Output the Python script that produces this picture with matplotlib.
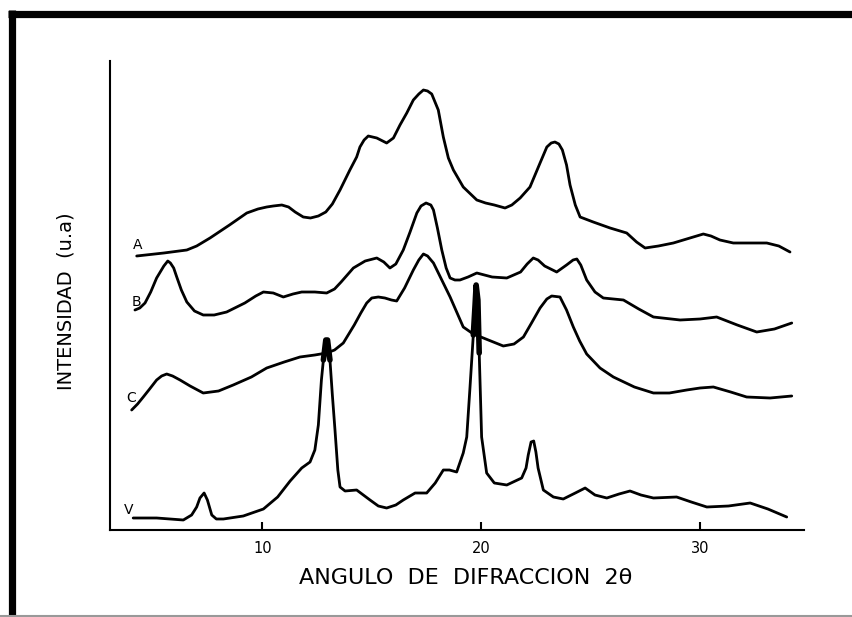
import numpy as np
import matplotlib
matplotlib.use('Agg')
import matplotlib.pyplot as plt
from matplotlib.lines import Line2D

# 2-theta positions and intensities (arbitrary units, stacked curves)
a_angle = [4.26, 5.5, 6.55, 7.0, 7.61, 8.5, 9.29, 9.8, 10.2, 10.5, 10.89, 11.2, 11.5, 11.87,
           12.2, 12.56, 12.9, 13.2, 13.55, 14.0, 14.31, 14.46, 14.65, 14.84, 15.23, 15.68,
           15.99, 16.29, 16.6, 16.9, 17.15, 17.36, 17.55, 17.74, 18.04, 18.27, 18.5, 18.73,
           19.18, 19.8, 20.2, 20.6, 21.09, 21.4, 21.78, 22.23, 22.69, 23.0, 23.2, 23.37,
           23.55, 23.71, 23.9, 24.06, 24.3, 24.52, 25.12, 25.89, 26.65, 27.1, 27.49, 28.1,
           28.78, 29.54, 30.15, 30.5, 30.91, 31.52, 32.3, 33.05, 33.6, 34.11]
a_int = [274, 277, 280, 284, 292, 305, 317, 321, 323, 324, 325, 323, 318, 313,
         312, 314, 318, 326, 340, 360, 373, 383, 390, 394, 392, 387,
         392, 405, 417, 430, 436, 440, 439, 436, 420, 393, 372, 360,
         343, 330, 327, 325, 322, 325, 332, 343, 367, 383, 387, 388,
         386, 380, 365, 345, 325, 313, 308, 302, 297, 288, 282, 284,
         287, 292, 296, 294, 290, 287, 287, 287, 284, 278]

b_angle = [4.18, 4.4, 4.64, 4.9, 5.17, 5.5, 5.68, 5.8, 5.95, 6.09, 6.3, 6.55, 6.9, 7.3, 7.8,
           8.37, 9.2, 9.7, 10.05, 10.5, 10.96, 11.4, 11.8, 12.4, 12.94, 13.3, 13.6, 14.16,
           14.7, 15.23, 15.55, 15.83, 16.1, 16.44, 16.75, 17.06, 17.25, 17.48, 17.7, 17.82,
           18.0, 18.2, 18.4, 18.58, 18.8, 19.03, 19.4, 19.8, 20.5, 21.17, 21.8, 22.1, 22.38,
           22.6, 22.9, 23.45, 23.9, 24.2, 24.37, 24.55, 24.82, 25.2, 25.58, 26.5, 27.2,
           27.87, 29.09, 30.0, 30.76, 31.7, 32.59, 33.4, 34.19]
b_int = [220, 222, 227, 238, 252, 264, 269, 267, 262, 253, 240, 228, 219, 215, 215,
         218, 227, 234, 238, 237, 233, 236, 238, 238, 237, 241, 248, 262,
         269, 272, 268, 262, 266, 280, 298, 317, 324, 327, 325, 320,
         302, 280, 262, 252, 250, 250, 253, 257, 253, 252, 258, 266, 272,
         270, 264, 258, 265, 270, 271, 265, 250, 238, 232, 230, 221,
         213, 210, 211, 213, 205, 198, 201, 207]

c_angle = [4.03, 4.3, 4.56, 4.85, 5.17, 5.4, 5.63, 5.9, 6.24, 6.7, 7.3, 8.0, 8.67, 9.5, 10.2,
           11.0, 11.72, 12.4, 12.94, 13.3, 13.7, 14.2, 14.5, 14.77, 15.0, 15.3, 15.6, 15.9,
           16.14, 16.5, 16.9, 17.15, 17.36, 17.55, 17.82, 18.2, 18.58, 18.9, 19.18, 19.64,
           20.1, 21.01, 21.5, 21.93, 22.3, 22.69, 23.0, 23.22, 23.6, 23.9, 24.21, 24.5,
           24.82, 25.43, 26.04, 27.0, 27.87, 28.6, 29.39, 30.0, 30.61, 31.4, 32.13, 33.2,
           34.19]
c_int = [120, 126, 133, 141, 150, 154, 156, 154, 150, 144, 137, 139, 145, 153, 162,
         168, 173, 175, 177, 180, 187, 205, 217, 227, 232, 233, 232, 230,
         229, 242, 260, 270, 276, 274, 267, 250, 233, 217, 203, 196,
         192, 184, 186, 193, 207, 222, 231, 234, 233, 220, 203, 189,
         176, 162, 153, 143, 137, 137, 140, 142, 143, 138, 133, 132,
         134]

v_angle = [4.1, 5.17, 6.39, 6.77, 7.0, 7.15, 7.34, 7.49, 7.69, 7.9, 8.22, 9.13, 10.05, 10.7,
           11.27, 11.8, 12.18, 12.4, 12.56, 12.7, 12.79, 12.9, 12.98, 13.09, 13.2, 13.32,
           13.45, 13.55, 13.78, 14.31, 14.92, 15.3, 15.68, 16.1, 16.44, 16.98, 17.51, 17.9,
           18.27, 18.55, 18.88, 19.18, 19.34, 19.49, 19.64, 19.72, 19.77, 19.85, 19.91, 20.02,
           20.25, 20.6, 21.17, 21.85, 22.05, 22.15, 22.28, 22.4, 22.5, 22.6, 22.84, 23.3,
           23.75, 24.3, 24.75, 25.2, 25.74, 26.3, 26.8, 27.3, 27.87, 28.93, 29.6, 30.31,
           31.3, 32.29, 33.1, 33.96]
v_int = [12, 12, 10, 15, 23, 32, 37, 30, 15, 11, 11, 14, 21, 33,
         49, 62, 68, 80, 105, 150, 170, 190, 190, 170, 135, 100,
         60, 43, 39, 40, 30, 24, 22, 25, 30, 37, 37, 47,
         60, 60, 58, 77, 93, 143, 195, 225, 245, 230, 177, 93,
         57, 47, 45, 52, 62, 75, 88, 89, 78, 62, 40, 33,
         31, 37, 42, 35, 32, 36, 39, 35, 32, 33, 28, 23,
         24, 27, 21, 13]

curve_names = ['A', 'B', 'C', 'V']
# where each curve letter sits (angle, intensity)
label_angle = [4.3, 4.23, 4.0, 3.91]
label_int = [285, 228, 132, 20]

x_ticks = [10, 20, 30]


def plot_xrd():
    fig = plt.figure(figsize=(8.52, 6.17), dpi=100)
    ax = fig.add_axes([110 / 852, 87 / 617, 694 / 852, 469 / 617])

    # --- curves ---
    for ang, inten in [(a_angle, a_int), (b_angle, b_int), (c_angle, c_int), (v_angle, v_int)]:
        ax.plot(ang, inten, color='black', linewidth=2.0, solid_capstyle='round',
                solid_joinstyle='round')

    # the two sharp V peaks are inked heavier at the top
    v_a = np.array(v_angle)
    v_i = np.array(v_int)
    top = v_i >= 170
    for lo, hi in [(12, 14), (19, 21)]:
        sel = top & (v_a > lo) & (v_a < hi)
        ax.plot(v_a[sel], v_i[sel], color='black', linewidth=4.0, solid_capstyle='round')

    for name, xa, yi in zip(curve_names, label_angle, label_int):
        ax.text(xa, yi, name, fontsize=10, ha='center', va='center', color='black')

    # --- axes look ---
    ax.set_xlim(3.04, 34.75)
    ax.set_ylim(0, 469)
    ax.spines['top'].set_visible(False)
    ax.spines['right'].set_visible(False)
    ax.spines['left'].set_linewidth(1.5)
    ax.spines['bottom'].set_linewidth(1.5)
    ax.set_yticks([])
    ax.set_xticks(x_ticks)
    ax.set_xticklabels([str(t) for t in x_ticks])
    ax.tick_params(axis='x', direction='in', length=6, width=1.5, pad=8, labelsize=10.5)

    fig.text(466 / 852, 1 - 578 / 617, 'ANGULO  DE  DIFRACCION  2\u03b8', fontsize=16,
             ha='center', va='center')
    fig.text(66 / 852, 1 - 301 / 617, 'INTENSIDAD  (u.a)', fontsize=14, rotation=90,
             ha='center', va='center')

    # scanned page frame: heavy black left and top, faint grey at bottom
    fig.add_artist(Line2D([11.5 / 852, 11.5 / 852], [0, 1 - 10 / 617], color='black',
                          linewidth=5.2, transform=fig.transFigure, solid_capstyle='butt'))
    fig.add_artist(Line2D([8 / 852, 1], [1 - 13.5 / 617, 1 - 13.5 / 617], color='black',
                          linewidth=5.2, transform=fig.transFigure, solid_capstyle='butt'))
    fig.add_artist(Line2D([0, 1], [1.5 / 617, 1.5 / 617], color='#999999',
                          linewidth=1.5, transform=fig.transFigure))

    fig.savefig('out.png', dpi=100)


if __name__ == '__main__':
    plot_xrd()
